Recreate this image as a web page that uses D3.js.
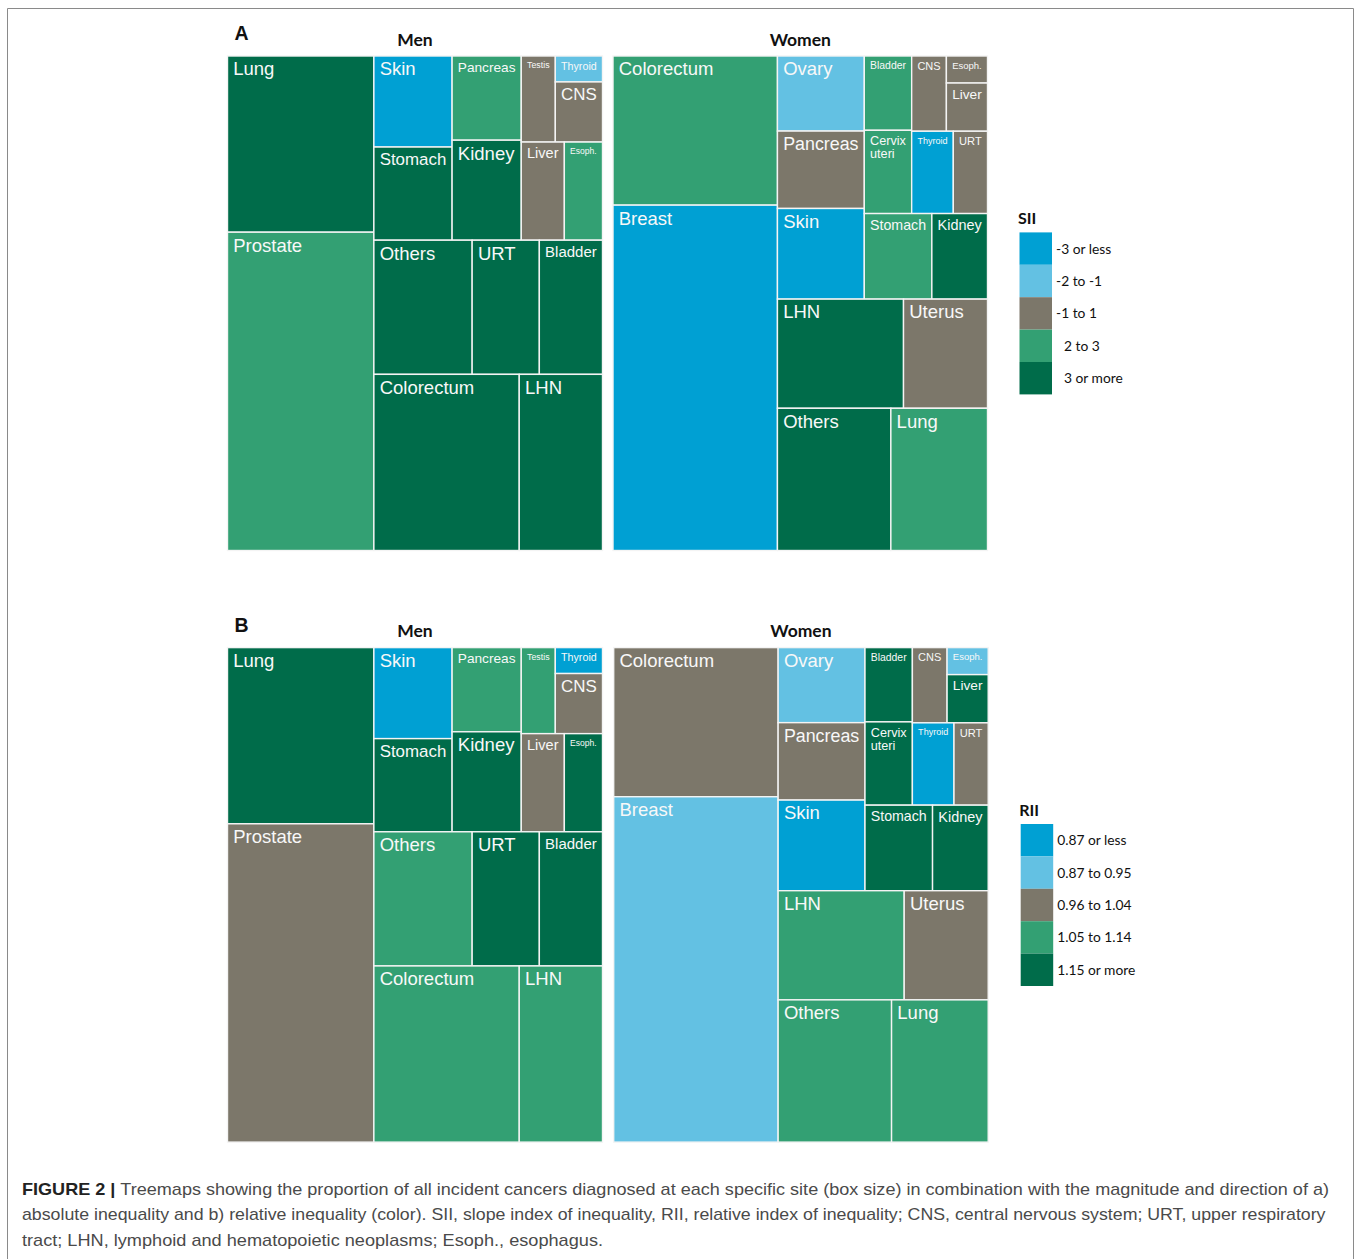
<!DOCTYPE html>
<html>
<head>
<meta charset="utf-8">
<script src="https://cdn.jsdelivr.net/npm/d3@7"></script>
<style>
  html, body { margin: 0; padding: 0; background: #fff; }
  svg { display: block; }
</style>
</head>
<body>
<svg id="fig" width="1360" height="1259"></svg>
<script>
// Inequality classes (legend entries) and their colours
const siiClasses = ["-3 or less", "-2 to -1", "-1 to 1", "\u20072 to 3", "\u20073 or more"];
const riiClasses = ["0.87 or less", "0.87 to 0.95", "0.96 to 1.04", "1.05 to 1.14", "1.15 or more"];
const classColors = ["#00a0d3", "#63c1e3", "#7c776a", "#33a073", "#006c4a"];

// Men: share of all incident cancers (%) and class index for SII / RII
const menSites = ["Lung", "Prostate", "Skin", "Stomach", "Pancreas", "Kidney", "Testis", "Thyroid",
                  "CNS", "Liver", "Esoph.", "Others", "URT", "Bladder", "Colorectum", "LHN"];
const menShare = [13.91, 25.13, 3.84, 3.93, 3.14, 3.73, 1.58, 0.66,
                  1.53, 2.28, 2.02, 7.11, 4.86, 4.57, 13.81, 7.91];
const menSII = [4, 3, 0, 4, 3, 4, 2, 1, 2, 2, 3, 4, 4, 4, 4, 4];
const menRII = [4, 2, 0, 4, 3, 4, 3, 0, 2, 2, 4, 3, 4, 4, 3, 3];
// grouping of the sites into nested rows / columns
const menGroups = [["Lung", "Prostate"],
  [[["Skin", "Stomach"], ["Pancreas", "Kidney"], [["Testis", ["Thyroid", "CNS"]], ["Liver", "Esoph."]]],
   ["Others", "URT", "Bladder"],
   ["Colorectum", "LHN"]]];

// Women
const womenSites = ["Colorectum", "Breast", "Ovary", "Pancreas", "Skin", "Bladder", "Cervix uteri", "CNS",
                    "Esoph.", "Liver", "Thyroid", "URT", "Stomach", "Kidney", "LHN", "Uterus", "Others", "Lung"];
const womenShare = [13.24, 30.66, 3.52, 3.63, 4.25, 1.90, 2.13, 1.41,
                    0.60, 1.07, 1.85, 1.52, 3.12, 2.57, 7.43, 4.95, 8.71, 7.42];
const womenSII = [3, 0, 1, 2, 0, 3, 3, 2, 2, 2, 0, 2, 3, 4, 4, 2, 4, 3];
const womenRII = [2, 1, 1, 2, 0, 4, 4, 2, 1, 4, 0, 2, 4, 4, 3, 2, 3, 3];
const womenGroups = [["Colorectum", "Breast"],
  [[["Ovary", "Pancreas", "Skin"],
    [[["Bladder", "Cervix uteri"], [["CNS", ["Esoph.", "Liver"]], ["Thyroid", "URT"]]], ["Stomach", "Kidney"]]],
   ["LHN", "Uterus"],
   ["Others", "Lung"]]];

const captionLines = [
  [["FIGURE 2 | ", true], ["Treemaps showing the proportion of all incident cancers diagnosed at each specific site (box size) in combination with the magnitude and direction of a)", false]],
  [["absolute inequality and b) relative inequality (color). SII, slope index of inequality, RII, relative index of inequality; CNS, central nervous system; URT, upper respiratory", false]],
  [["tract; LHN, lymphoid and hematopoietic neoplasms; Esoph., esophagus.", false]]
];

const svg = d3.select("#fig");
const color = d3.scaleOrdinal().domain(d3.range(5)).range(classColors);

const LABEL_FONT = "'Liberation Sans', Arial, sans-serif";
const TITLE_FONT = "Lato, 'Open Sans', sans-serif";
const MAX_FS = 18.5;

// scratch text used to measure label widths
const measurer = svg.append("text").attr("font-family", LABEL_FONT).attr("font-size", MAX_FS)
  .attr("visibility", "hidden");
function textWidth(s) { measurer.text(s); return measurer.node().getComputedTextLength(); }

function drawTreemap(g, groups, sites, share, cls, w, h) {
  const info = new Map(sites.map((s, i) => [s, { value: share[i], cls: cls[i] }]));
  const build = n => typeof n === "string" ? { name: n, ...info.get(n) } : { children: n.map(build) };
  const root = d3.hierarchy(build(groups)).sum(d => d.children ? 0 : d.value);
  d3.treemap().tile(d3.treemapSliceDice).size([w, h]).round(false)(root);

  const cell = g.selectAll("g.cell").data(root.leaves()).join("g")
    .attr("class", "cell")
    .attr("transform", d => `translate(${d.x0},${d.y0})`);

  cell.append("rect")
    .attr("width", d => d.x1 - d.x0)
    .attr("height", d => d.y1 - d.y0)
    .attr("fill", d => color(d.data.cls))
    .attr("stroke", "#f4f4f4")
    .attr("stroke-width", 1.4);

  cell.each(function (d) {
    const lines = d.data.name.split(" ");
    const cw = d.x1 - d.x0;
    const longest = d3.max(lines, textWidth);
    const fs = Math.min(MAX_FS, MAX_FS * (cw - 11.5) / longest);
    const t = d3.select(this).append("text")
      .attr("font-family", LABEL_FONT)
      .attr("font-size", fs.toFixed(2))
      .attr("fill", "#f8f8f8");
    lines.forEach((ln, i) => {
      t.append("tspan").attr("x", 5.75).attr("y", 5.6 + 0.745 * fs + i * fs).text(ln);
    });
  });
}

function drawLegend(g, title, labels) {
  const band = d3.scaleBand().domain(labels).range([0, 162]);
  g.append("text").attr("x", -1.5).attr("y", -8.3)
    .attr("font-family", TITLE_FONT).attr("font-weight", 700).attr("font-size", 16)
    .attr("fill", "#111").text(title);
  g.selectAll("rect").data(labels).join("rect")
    .attr("x", 0).attr("y", d => band(d))
    .attr("width", 32.5).attr("height", band.bandwidth())
    .attr("fill", (d, i) => classColors[i]);
  g.selectAll("text.lab").data(labels).join("text")
    .attr("class", "lab")
    .attr("x", 36.5).attr("y", d => band(d) + band.bandwidth() / 2 + 5)
    .attr("font-family", TITLE_FONT).attr("font-size", 13.8).attr("fill", "#111")
    .text(d => d);
}

const panels = [
  { key: "A", top: 56, menSet: menSII, womenSet: womenSII, womenX: 613, legendTitle: "SII", legend: siiClasses, lx: 1019.5 },
  { key: "B", top: 647.6, menSet: menRII, womenSet: womenRII, womenX: 613.7, legendTitle: "RII", legend: riiClasses, lx: 1020.7 }
];

panels.forEach(p => {
  const panel = svg.append("g");
  panel.append("text").attr("x", 234.5).attr("y", p.top - 15.8)
    .attr("font-family", "'Liberation Sans', Arial, sans-serif").attr("font-weight", 700)
    .attr("font-size", 19.5).attr("fill", "#111").text(p.key);

  const men = panel.append("g").attr("transform", `translate(227.5,${p.top})`);
  drawTreemap(men, menGroups, menSites, menShare, p.menSet, 375, 494.5);
  panel.append("text").attr("x", 227.5 + 375 / 2).attr("y", p.top - 10.3)
    .attr("text-anchor", "middle").attr("font-family", TITLE_FONT).attr("font-weight", 700)
    .attr("font-size", 17.5).attr("fill", "#111").text("Men");

  const women = panel.append("g").attr("transform", `translate(${p.womenX},${p.top})`);
  drawTreemap(women, womenGroups, womenSites, womenShare, p.womenSet, 374.5, 494.5);
  panel.append("text").attr("x", p.womenX + 374.5 / 2).attr("y", p.top - 10.3)
    .attr("text-anchor", "middle").attr("font-family", TITLE_FONT).attr("font-weight", 700)
    .attr("font-size", 17.5).attr("fill", "#111").text("Women");

  const lg = panel.append("g").attr("transform", `translate(${p.lx},${p.top + 176.4})`);
  drawLegend(lg, p.legendTitle, p.legend);
});

measurer.remove();

// frame around the figure
svg.append("path").attr("d", "M7.5,1259V8.5H1353.5V1259")
  .attr("fill", "none").attr("stroke", "#8a8a8a").attr("stroke-width", 1);

// caption
const lineEnds = [1329, 1325.5, 603];
captionLines.forEach((parts, i) => {
  const t = svg.append("text")
    .attr("x", 22).attr("y", 1195 + i * 25.3)
    .attr("font-family", "'Liberation Sans', Arial, sans-serif")
    .attr("font-size", 17).attr("fill", "#4a4a4a")
    .attr("textLength", lineEnds[i] - 22).attr("lengthAdjust", "spacingAndGlyphs");
  parts.forEach(([s, bold]) => {
    t.append("tspan").attr("font-weight", bold ? 700 : 400).attr("fill", bold ? "#222" : "#4a4a4a").text(s);
  });
});
</script>
</body>
</html>
